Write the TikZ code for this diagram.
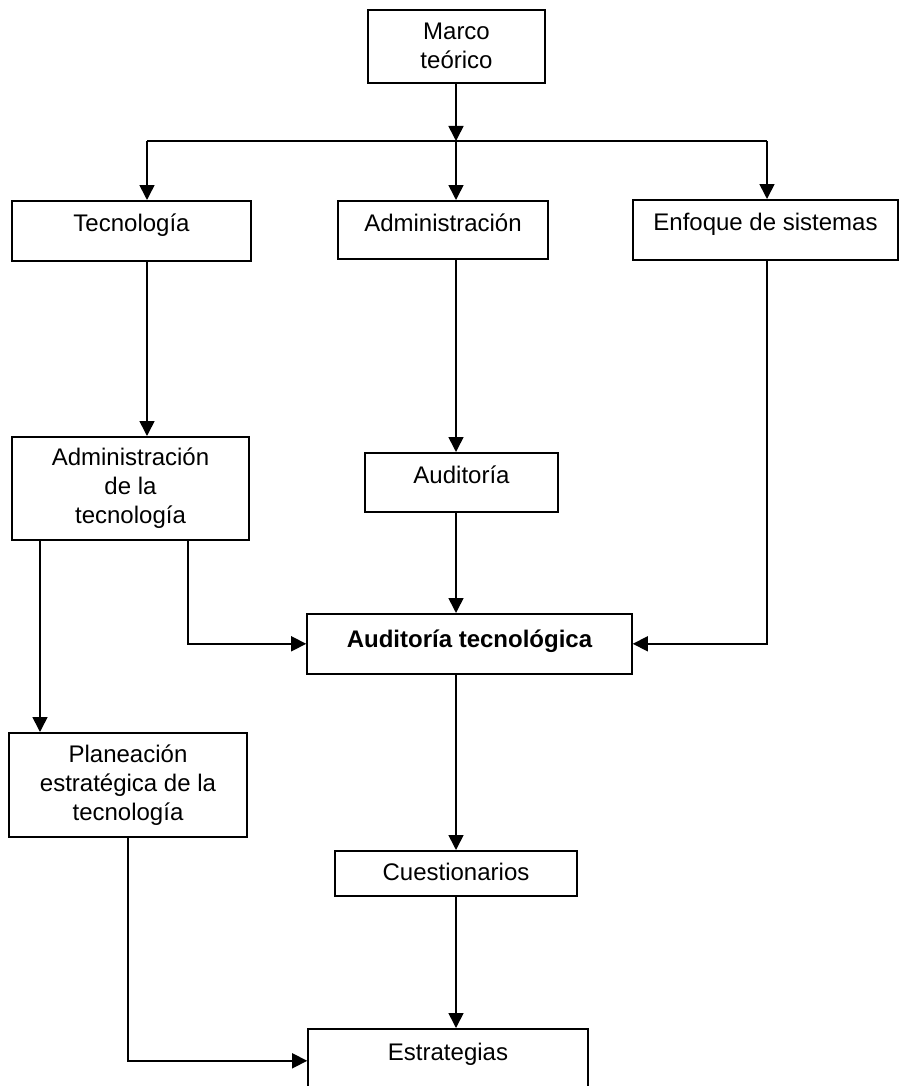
\documentclass[tikz,border=0pt]{standalone}
\usepackage{fontspec}
\setsansfont{Liberation Sans}
\usetikzlibrary{arrows.meta}
\begin{document}
\begin{tikzpicture}[x=0.5pt, y=-0.5pt, font=\sffamily\fontsize{12}{14.5}\selectfont,
      >={Triangle[length=7.5pt, width=7.5pt]}, line width=0.8pt,
      box/.style={draw, anchor=north, inner xsep=2pt, inner ysep=0pt},
      onel/.style={box, text height=15.5pt, text depth=14.5pt},
      multi/.style={box, align=center}]
    \clip (0,0) rectangle (904,1086);
    \node[multi, minimum width=88.5pt, minimum height=36.5pt] (marco) at (456.5,9) {Marco\\teórico};
    \node[onel, minimum width=119.5pt] (tec) at (131.5,200) {Tecnología};
    \node[onel, minimum width=105pt, text depth=13.5pt] (adm) at (443,200) {Administración};
    \node[onel, minimum width=132.5pt] (enf) at (765.5,199) {Enfoque de sistemas};
    \node[multi, minimum width=118.5pt, minimum height=51.5pt] (admtec) at (130.5,436) {Administración\\de la\\tecnología};
    \node[onel, minimum width=96.5pt, text depth=14pt] (aud) at (461.5,452) {Auditoría};
    \node[onel, minimum width=162.5pt, text height=17pt, text depth=13pt, font=\sffamily\bfseries\fontsize{12}{14}\selectfont] (audtec) at (469.5,613) {Auditoría tecnológica};
    \node[multi, minimum width=119pt, minimum height=52pt] (plan) at (128,732) {Planeación\\estratégica de la\\tecnología};
    \node[onel, minimum width=121pt, text height=15pt, text depth=7.5pt] (cue) at (456,850) {Cuestionarios};
    \node[onel, minimum width=140pt, text height=16pt, text depth=40pt] (est) at (448,1028) {Estrategias};
    % reparto desde el marco teorico
    \coordinate (busL) at (147,141);
    \coordinate (busM) at (456,141);
    \coordinate (busR) at (767,141);
    \draw[->] (marco.south -| busM) -- (busM);
    \draw (busL) -- (busR);
    \draw[->] (busL) -- (busL |- tec.north);
    \draw[->] (busM) -- (busM |- adm.north);
    \draw[->] (busR) -- (busR |- enf.north);
    % columnas
    \draw[->] (tec.south -| busL) -- (admtec.north -| busL);
    \draw[->] (adm.south -| busM) -- (aud.north -| busM);
    \draw[->] (aud.south -| busM) -- (audtec.north -| busM);
    \draw[->] (enf.south -| busR) |- (audtec.east);
    \draw[->] ([xshift=28.75pt]admtec.south) |- (audtec.west);
    \draw[->] ([xshift=-45.25pt]admtec.south) -- ([xshift=-45.25pt]admtec.south |- plan.north);
    \draw[->] (cue.north |- audtec.south) -- (cue.north);
    \draw[->] (cue.south) -- (cue.south |- est.north);
    \draw[->] (plan.south) |- (est.base west);
  \end{tikzpicture}
\end{document}
